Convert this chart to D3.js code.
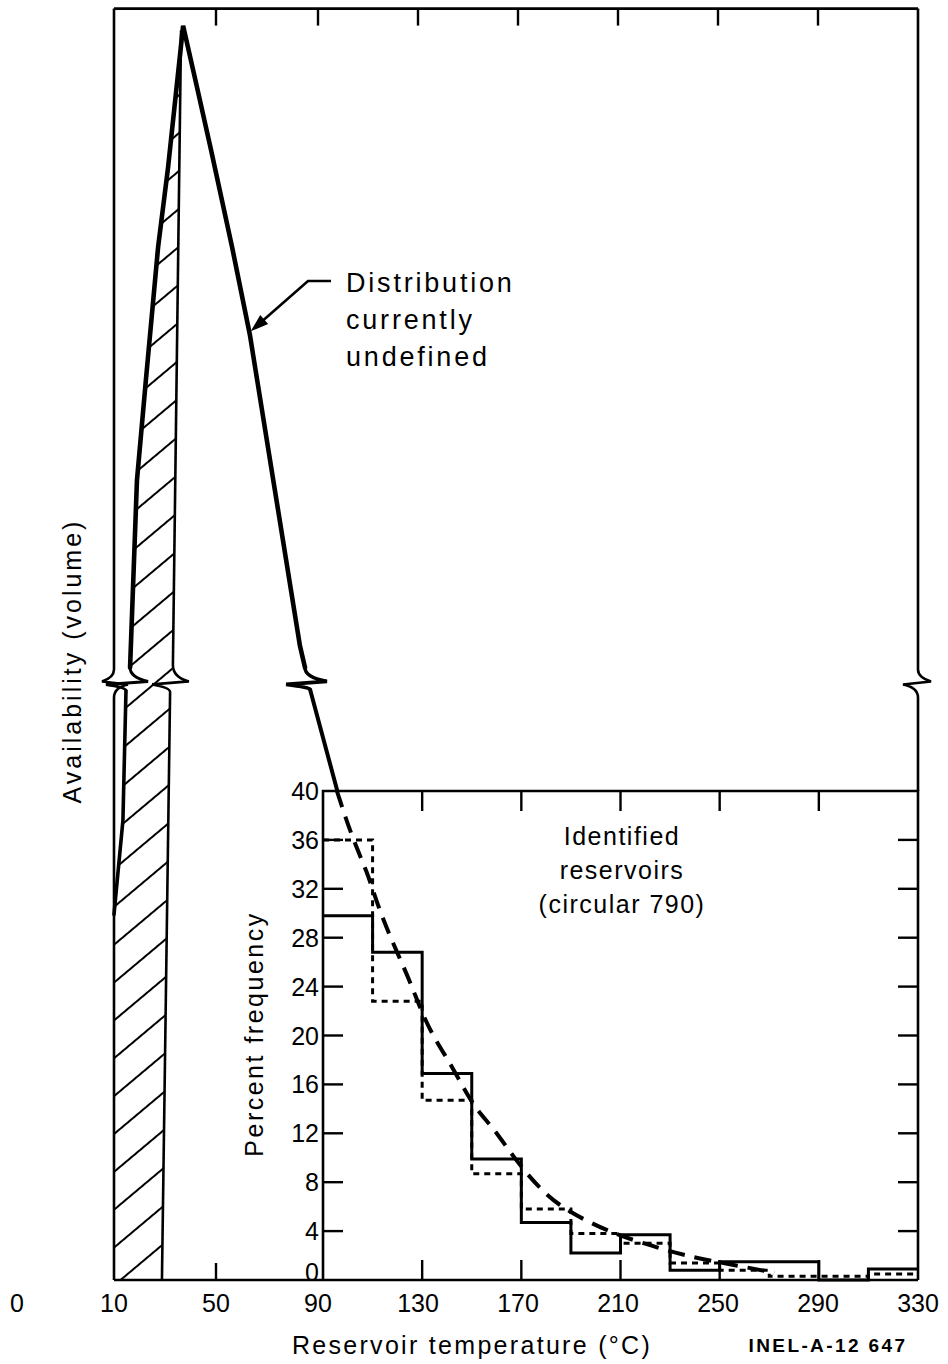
<!DOCTYPE html>
<html><head><meta charset="utf-8">
<script src="https://cdn.jsdelivr.net/npm/d3@7"></script>
<style>
body{margin:0;background:#fff}
svg{display:block}
text{font-family:"Liberation Sans",Arial,Helvetica,sans-serif;fill:#000}
</style>
</head><body>
<svg id="c" width="948" height="1364"></svg>
<script>
// ---------------- data ----------------
const xTickLabels = [0, 10, 50, 90, 130, 170, 210, 250, 290, 330];
const outerTopTicks = [50, 90, 130, 170, 210, 250, 290];
const insetXTicks = [130, 170, 210, 250, 290];
const outerBottomTicks = [50];
const yTickLabels = [0, 4, 8, 12, 16, 20, 24, 28, 32, 36, 40];
const yInnerTicks = [4, 8, 12, 16, 20, 24, 28, 32, 36];

// histogram of identified reservoirs (percent frequency, 20 °C bins)
const binEdges   = [90, 110, 130, 150, 170, 190, 210, 230, 250, 270, 290, 310, 330];
const solidFreq  = [29.8, 26.8, 16.9, 9.9, 4.7, 2.2, 3.7, 0.8, 1.5, 1.5, 0, 0.9];
const dottedFreq = [36, 22.8, 14.7, 8.7, 5.8, 3.8, 3.0, 1.4, 0.8, 0.3, 0.3, 0.5];

// dashed fitted curve
const fitTemp = [95.6, 101.7, 108, 111.8, 117, 125, 129, 134.4, 142.4, 150.5, 158.6, 166.6, 177.5, 188.4, 207, 217.9, 235, 259, 272];
const fitFreq = [40, 36.2, 33.3, 30.8, 28.1, 24.5, 22.3, 19.9, 17.4, 14.2, 12.5, 10.1, 7.4, 5.6, 3.8, 3.1, 2.0, 1.1, 0.6];

// availability curve ("distribution currently undefined"), above the break
const upperLeftTemp  = [16.3, 19.0, 22.5, 27.3, 31.2, 34.0, 37.1];
const upperLeftAvail = [50.1, 65.4, 73.6, 84.5, 91.0, 96.5, 102.6];
const upperRightTemp  = [37.1, 42.2, 48.1, 56.3, 63.3, 73.1, 82.9, 84.9];
const upperRightAvail = [102.6, 97.9, 92.4, 84.5, 77.3, 64.6, 51.9, 50.1];
// below the break
const lowerLeftTemp  = [14.7, 13.5, 10.0];
const lowerLeftAvail = [48.2, 37.6, 29.9];
const lowerRightTemp  = [86.9, 97.6];
const lowerRightAvail = [48.3, 40.1];
// right edge of hatched area
const hatchUpperTemp  = [36.3, 33.1];
const hatchUpperAvail = [102.2, 50.3];
const hatchLowerTemp  = [32.0, 28.8];
const hatchLowerAvail = [48.1, 0];

const availTop = 104;     // top of frame in axis units
const breakAt = 48.8;     // axis break level

// ---------------- scales ----------------
const svg = d3.select('#c');
const xOut = d3.scaleLinear().domain([0, 10, 90, 330]).range([17, 114, 318, 918]);
const xIn  = d3.scaleLinear().domain([90, 330]).range([323, 918]);
const y    = d3.scaleLinear().domain([0, 40]).range([1280, 791]);

const P = (t, a) => [xOut(t), y(a)];
const zip = (ts, as) => ts.map((t, i) => [t, as[i]]);
const yc = y(breakAt);

function brk(xu, yu, xl, yl, d, w) {
  w = w || 15;
  return `M${xu},${yu} Q${xu},${yc - 6} ${xu + d * w},${yc - 2} L${xl - d * (w + 2)},${yc + 1} Q${xl},${yc + 4} ${xl},${yl}`;
}
function brkTail(x, d, w) {
  return `Q${x},${yc - 6} ${x + d * w},${yc - 2} L${x - d * (w + 2)},${yc + 1} Q${x},${yc + 4} ${x},${yc + 14}`;
}

// ---------------- hatched area ----------------
const defs = svg.append('defs');
const pat = defs.append('pattern').attr('id', 'hatch')
  .attr('patternUnits', 'userSpaceOnUse').attr('width', 40).attr('height', 29)
  .attr('patternTransform', 'rotate(-40)');
pat.append('line').attr('x1', -5).attr('x2', 45).attr('y1', 14).attr('y2', 14)
  .attr('stroke', '#000').attr('stroke-width', 2.2);

const hatchPoly = []
  .concat(zip(upperLeftTemp, upperLeftAvail).reverse())
  .concat(zip(lowerLeftTemp, lowerLeftAvail))
  .concat([[10, 0]])
  .concat(zip(hatchLowerTemp, hatchLowerAvail).reverse())
  .concat(zip(hatchUpperTemp, hatchUpperAvail).reverse())
  .map(p => P(p[0], p[1]));
svg.append('path').attr('d', 'M' + hatchPoly.join('L') + 'Z')
  .attr('fill', 'url(#hatch)');

const lineOut = d3.line().x(d => xOut(d[0])).y(d => y(d[1]));

// hatch boundary
svg.append('path').attr('d', lineOut(zip(hatchUpperTemp, hatchUpperAvail)))
  .attr('fill', 'none').attr('stroke', '#000').attr('stroke-width', 2.6);
svg.append('path').attr('d', lineOut(zip(hatchLowerTemp, hatchLowerAvail)))
  .attr('fill', 'none').attr('stroke', '#000').attr('stroke-width', 2.6);
{
  const u = P(hatchUpperTemp[1], hatchUpperAvail[1]), l = P(hatchLowerTemp[0], hatchLowerAvail[0]);
  svg.append('path').attr('d', brk(u[0], u[1], l[0], l[1], 1, 16))
    .attr('fill', 'none').attr('stroke', '#000').attr('stroke-width', 2.6);
}

// ---------------- frame ----------------
const fr = svg.append('g').attr('fill', 'none').attr('stroke', '#000').attr('stroke-width', 2.6);
const xL = xOut(10), xR = xOut(330), yT = y(availTop), yB = y(0);
fr.append('path').attr('d', `M${xL},${yT} H${xR}`);
fr.append('path').attr('d', `M${xL},${yT} V${yc - 14} ` + brkTail(xL, -1, 12) + ` V${yB}`);
fr.append('path').attr('d', `M${xR},${yT} V${yc - 14} ` + brkTail(xR, 1, 13) + ` V${y(40)}`);
fr.append('path').attr('d', `M${xL},${yB} H${xIn(330)}`);
// inset box
fr.append('path').attr('d', `M${xIn(90)},${yB} V${y(40)} H${xIn(330)} V${yB}`);

// ticks
const tk = svg.append('g').attr('stroke', '#000').attr('stroke-width', 2.4);
outerTopTicks.forEach(t => tk.append('line').attr('x1', xOut(t)).attr('x2', xOut(t)).attr('y1', yT).attr('y2', yT + 17));
insetXTicks.forEach(t => tk.append('line').attr('x1', xIn(t)).attr('x2', xIn(t)).attr('y1', y(40)).attr('y2', y(40) + 20));
insetXTicks.forEach(t => tk.append('line').attr('x1', xIn(t)).attr('x2', xIn(t)).attr('y1', yB).attr('y2', yB - 20));
outerBottomTicks.forEach(t => tk.append('line').attr('x1', xOut(t)).attr('x2', xOut(t)).attr('y1', yB).attr('y2', yB - 17));
yInnerTicks.forEach(v => {
  tk.append('line').attr('x1', xIn(90)).attr('x2', xIn(90) + 20).attr('y1', y(v)).attr('y2', y(v));
  tk.append('line').attr('x1', xIn(330)).attr('x2', xIn(330) - 20).attr('y1', y(v)).attr('y2', y(v));
});

// ---------------- availability curve ----------------
const cv = svg.append('g').attr('fill', 'none').attr('stroke', '#000').attr('stroke-width', 4.6)
  .attr('stroke-linejoin', 'miter').attr('stroke-linecap', 'round');
cv.append('path').attr('d', lineOut(zip(upperLeftTemp, upperLeftAvail).concat(zip(upperRightTemp, upperRightAvail).slice(1))));
cv.append('path').attr('d', lineOut(zip(lowerLeftTemp, lowerLeftAvail))).attr('stroke-width', 3.6);
cv.append('path').attr('d', lineOut(zip(lowerRightTemp, lowerRightAvail))).attr('stroke-width', 4);
{
  const u = P(upperLeftTemp[0], upperLeftAvail[0]), l = P(lowerLeftTemp[0], lowerLeftAvail[0]);
  cv.append('path').attr('d', brk(u[0], u[1], l[0], l[1], 1, 18)).attr('stroke-width', 3);
  const u2 = P(upperRightTemp[upperRightTemp.length - 1], upperRightAvail[upperRightAvail.length - 1]);
  const l2 = P(lowerRightTemp[0], lowerRightAvail[0]);
  cv.append('path').attr('d', brk(u2[0], u2[1], l2[0], l2[1], 1, 22)).attr('stroke-width', 3.6);
}

// ---------------- inset histogram ----------------
const stepPts = vals => vals.map((v, i) => [binEdges[i], v]).concat([[binEdges[binEdges.length - 1], vals[vals.length - 1]]]);
const stepLine = d3.line().x(d => xIn(d[0])).y(d => y(d[1])).curve(d3.curveStepAfter);
svg.append('path').attr('d', stepLine(stepPts(dottedFreq)))
  .attr('fill', 'none').attr('stroke', '#000').attr('stroke-width', 3).attr('stroke-dasharray', '6,5');
svg.append('path').attr('d', stepLine(stepPts(solidFreq)))
  .attr('fill', 'none').attr('stroke', '#000').attr('stroke-width', 3);
svg.append('path').attr('d', d3.line().x(d => xIn(d[0])).y(d => y(d[1])).curve(d3.curveBasis)(zip(fitTemp, fitFreq)))
  .attr('fill', 'none').attr('stroke', '#000').attr('stroke-width', 4).attr('stroke-dasharray', '17,10');

// ---------------- labels ----------------
const lbl = svg.append('g').attr('font-size', 25);
xTickLabels.forEach(t => lbl.append('text').attr('x', xOut(t)).attr('y', 1312).attr('text-anchor', 'middle').text(t));
yTickLabels.forEach(v => lbl.append('text').attr('x', xIn(90) - 4).attr('y', y(v) - (v === 0 ? 8 : 0))
  .attr('dy', '0.36em').attr('text-anchor', 'end').text(v));

svg.append('text').attr('x', 472).attr('y', 1354).attr('text-anchor', 'middle').attr('font-size', 25)
  .attr('letter-spacing', 2.3).text('Reservoir temperature (°C)');
svg.append('text').attr('x', 828).attr('y', 1352).attr('text-anchor', 'middle').attr('font-size', 19)
  .attr('font-weight', 'bold').attr('letter-spacing', 2.4).text('INEL-A-12 647');
svg.append('text').attr('transform', 'translate(81,661) rotate(-90)').attr('text-anchor', 'middle')
  .attr('font-size', 25).attr('letter-spacing', 3).text('Availability (volume)');
svg.append('text').attr('transform', 'translate(263,1034) rotate(-90)').attr('text-anchor', 'middle')
  .attr('font-size', 25).attr('letter-spacing', 2.5).text('Percent frequency');

const ir = svg.append('g').attr('font-size', 25).attr('text-anchor', 'middle').attr('letter-spacing', 1.5);
['Identified', 'reservoirs', '(circular 790)'].forEach((s, i) =>
  ir.append('text').attr('x', 622).attr('y', 845 + i * 34).text(s));

const du = svg.append('g').attr('font-size', 27).attr('letter-spacing', 2.8);
['Distribution', 'currently', 'undefined'].forEach((s, i) =>
  du.append('text').attr('x', 346).attr('y', 292 + i * 37).text(s));

// annotation arrow
{
  const tip = P(63.6, 77.6);
  const x0 = 331, x1 = 308, ya = 281;
  svg.append('path').attr('d', `M${x0},${ya} H${x1} L${tip[0] + 8},${tip[1] - 7}`)
    .attr('fill', 'none').attr('stroke', '#000').attr('stroke-width', 2.6);
  const ang = Math.atan2(tip[1] - ya, tip[0] - x1);
  const L = 18, W = 6;
  const bx = tip[0] - L * Math.cos(ang), by = tip[1] - L * Math.sin(ang);
  const px = -Math.sin(ang) * W, py = Math.cos(ang) * W;
  svg.append('path').attr('d', `M${tip[0]},${tip[1]} L${bx + px},${by + py} L${bx - px},${by - py} Z`).attr('fill', '#000');
}
</script>
</body></html>
